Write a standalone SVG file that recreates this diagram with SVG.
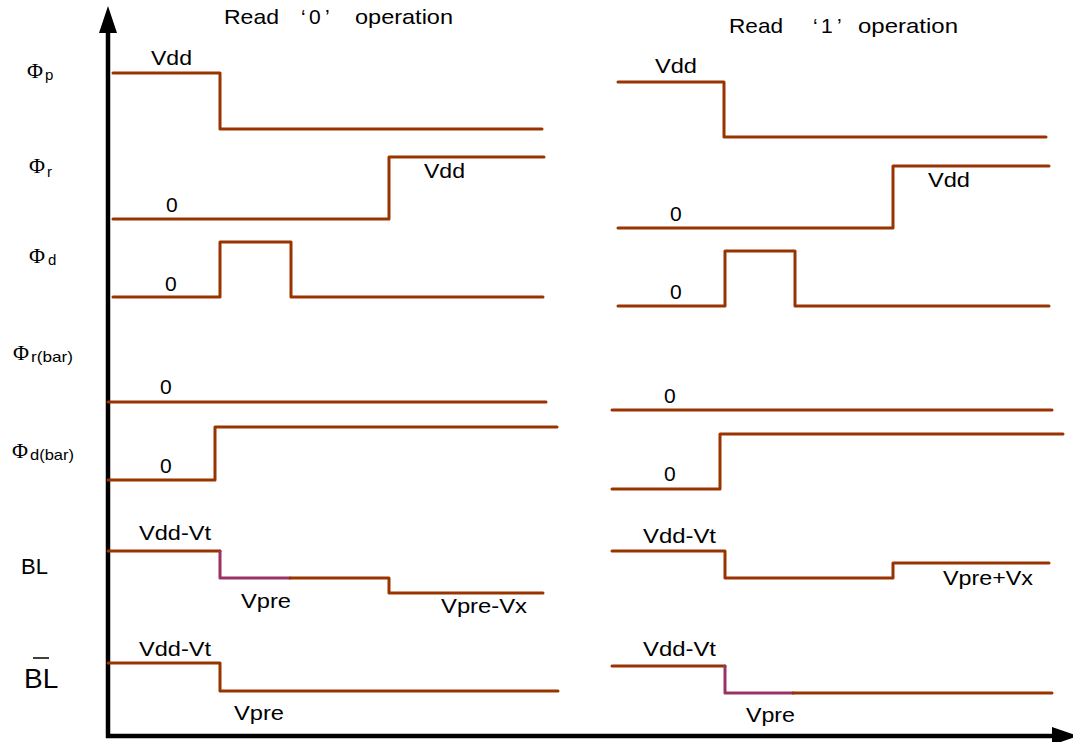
<svg xmlns="http://www.w3.org/2000/svg" width="1073" height="742" viewBox="0 0 1073 742">
<style>
.w{fill:none;stroke:#993300;stroke-width:3;stroke-linecap:round;stroke-linejoin:round}
.pu{fill:none;stroke:#993366;stroke-width:3;stroke-linecap:round;stroke-linejoin:round}
.t{font-family:"Liberation Sans",Arial,sans-serif;font-size:21px;fill:#000}
.phi{font-family:"Liberation Serif","Times New Roman",serif;font-size:20px;fill:#000}
.sub{font-family:"Liberation Sans",Arial,sans-serif;font-size:15px;fill:#000}
.ax{stroke:#000;stroke-width:4.5;fill:none}
</style>
<rect width="1073" height="742" fill="#fff"/>

<g id="axes">
  <line class="ax" x1="108" y1="738" x2="108" y2="30"/>
  <polygon points="108,6 99,33 117,33" fill="#000"/>
  <line class="ax" x1="106" y1="736" x2="1055" y2="736"/>
  <polygon points="1052,727 1052,745 1078,736" fill="#000"/>
</g>

<g id="titles">
  <text class="t" y="24"><tspan x="224" textLength="55" lengthAdjust="spacingAndGlyphs">Read</tspan> <tspan x="301">‘</tspan><tspan x="309">0</tspan><tspan x="325">’</tspan> <tspan x="355" textLength="98" lengthAdjust="spacingAndGlyphs">operation</tspan></text>
  <text class="t" y="33"><tspan x="729" textLength="54" lengthAdjust="spacingAndGlyphs">Read</tspan> <tspan x="813">‘</tspan><tspan x="821">1</tspan><tspan x="837">’</tspan> <tspan x="858" textLength="100" lengthAdjust="spacingAndGlyphs">operation</tspan></text>
</g>

<g id="labels">
  <text y="78"><tspan class="phi" x="27" textLength="16" lengthAdjust="spacingAndGlyphs">Φ</tspan><tspan class="sub" x="45" y="80">p</tspan></text>
  <text y="173"><tspan class="phi" x="29" textLength="16" lengthAdjust="spacingAndGlyphs">Φ</tspan><tspan class="sub" x="47" y="177">r</tspan></text>
  <text y="263"><tspan class="phi" x="29" textLength="16" lengthAdjust="spacingAndGlyphs">Φ</tspan><tspan class="sub" x="48" y="265">d</tspan></text>
  <text y="360"><tspan class="phi" x="13" textLength="16" lengthAdjust="spacingAndGlyphs">Φ</tspan><tspan class="sub" x="31" y="362" textLength="42" lengthAdjust="spacingAndGlyphs">r(bar)</tspan></text>
  <text y="458"><tspan class="phi" x="12" textLength="16" lengthAdjust="spacingAndGlyphs">Φ</tspan><tspan class="sub" x="30" y="460" textLength="44" lengthAdjust="spacingAndGlyphs">d(bar)</tspan></text>
  <text class="t" x="21" y="574" style="font-size:22px">BL</text>
  <text class="t" x="24" y="688" style="font-size:28px">BL</text>
  <line x1="33" y1="658" x2="49" y2="658" stroke="#000" stroke-width="1.5"/>
</g>

<g id="read0">
  <g id="r0-phip">
    <polyline class="w" points="113,73 220,73 220,129 542,129"/>
    <text class="t" x="151" y="65" textLength="41" lengthAdjust="spacingAndGlyphs">Vdd</text>
  </g>
  <g id="r0-phir">
    <polyline class="w" points="113,219 389,219 389,157 544,157"/>
    <text class="t" x="166" y="212">0</text>
    <text class="t" x="424" y="178" textLength="41" lengthAdjust="spacingAndGlyphs">Vdd</text>
  </g>
  <g id="r0-phid">
    <polyline class="w" points="113,297 220,297 220,242 291,242 291,297 543,297"/>
    <text class="t" x="165" y="291">0</text>
  </g>
  <g id="r0-phirbar">
    <polyline class="w" points="108,402 546,402"/>
    <text class="t" x="160" y="394">0</text>
  </g>
  <g id="r0-phidbar">
    <polyline class="w" points="108,480 215,480 215,427 557,427"/>
    <text class="t" x="160" y="473">0</text>
  </g>
  <g id="r0-bl">
    <polyline class="w" points="108,551 220,551"/>
    <polyline class="pu" points="220,551 220,578 290,578"/>
    <polyline class="w" points="290,578 389,578 389,593 543,593"/>
    <text class="t" x="139" y="540" textLength="72" lengthAdjust="spacingAndGlyphs">Vdd-Vt</text>
    <text class="t" x="241" y="608" textLength="50" lengthAdjust="spacingAndGlyphs">Vpre</text>
    <text class="t" x="441" y="613" textLength="86" lengthAdjust="spacingAndGlyphs">Vpre-Vx</text>
  </g>
  <g id="r0-blbar">
    <polyline class="w" points="108,663 220,663 220,691 558,691"/>
    <text class="t" x="139" y="656" textLength="72" lengthAdjust="spacingAndGlyphs">Vdd-Vt</text>
    <text class="t" x="234" y="720" textLength="50" lengthAdjust="spacingAndGlyphs">Vpre</text>
  </g>
</g>

<g id="read1">
  <g id="r1-phip">
    <polyline class="w" points="618,82 724,82 724,137 1046,137"/>
    <text class="t" x="655" y="73" textLength="42" lengthAdjust="spacingAndGlyphs">Vdd</text>
  </g>
  <g id="r1-phir">
    <polyline class="w" points="618,228 893,228 893,166 1049,166"/>
    <text class="t" x="670" y="221">0</text>
    <text class="t" x="928" y="187" textLength="42" lengthAdjust="spacingAndGlyphs">Vdd</text>
  </g>
  <g id="r1-phid">
    <polyline class="w" points="618,306 725,306 725,251 795,251 795,306 1049,306"/>
    <text class="t" x="670" y="299">0</text>
  </g>
  <g id="r1-phirbar">
    <polyline class="w" points="612,410 1052,410"/>
    <text class="t" x="664" y="403">0</text>
  </g>
  <g id="r1-phidbar">
    <polyline class="w" points="612,489 720,489 720,434 1063,434"/>
    <text class="t" x="664" y="481">0</text>
  </g>
  <g id="r1-bl">
    <polyline class="w" points="612,551 725,551 725,578 893,578 893,563 1049,563"/>
    <text class="t" x="643" y="543" textLength="73" lengthAdjust="spacingAndGlyphs">Vdd-Vt</text>
    <text class="t" x="943" y="585" textLength="90" lengthAdjust="spacingAndGlyphs">Vpre+Vx</text>
  </g>
  <g id="r1-blbar">
    <polyline class="w" points="612,666 725,666"/>
    <polyline class="pu" points="725,666 725,693 793,693"/>
    <polyline class="w" points="793,693 1052,693"/>
    <text class="t" x="643" y="656" textLength="73" lengthAdjust="spacingAndGlyphs">Vdd-Vt</text>
    <text class="t" x="746" y="722" textLength="49" lengthAdjust="spacingAndGlyphs">Vpre</text>
  </g>
</g>
</svg>
